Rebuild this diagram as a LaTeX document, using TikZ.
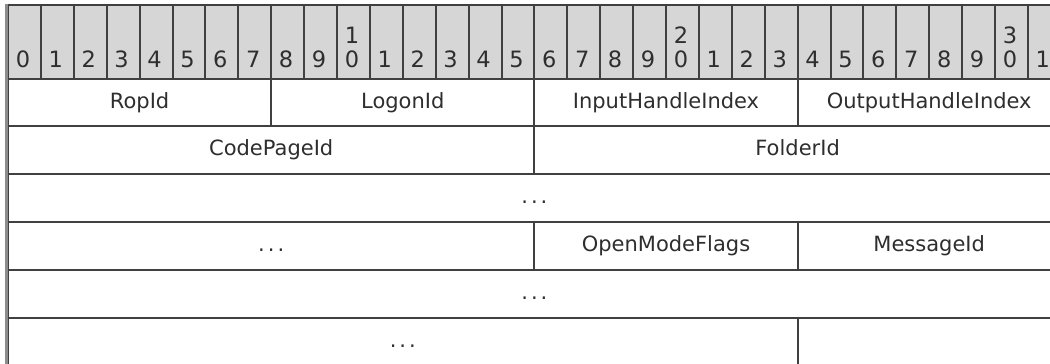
\documentclass[tikz,border=0pt]{standalone}
\usepackage{fontspec}
\setmainfont{DejaVu Sans}
\definecolor{hdr}{HTML}{D6D6D6}
\definecolor{ln}{HTML}{404040}
\definecolor{txt}{HTML}{2E2E2E}
\definecolor{lb}{HTML}{8C8C8C}
\newcommand\mydots{.\hspace{3pt}.\hspace{3pt}.}
\begin{document}
\begin{tikzpicture}[x=1pt,y=-1pt,
  bitbox/.style={draw=ln, line width=2pt, fill=hdr, minimum width=32.9pt, minimum height=73.5pt, inner sep=0pt, anchor=north west},
  digit/.style={anchor=base, inner sep=0pt, text=txt, font=\fontsize{22.5}{26}\selectfont},
  field/.style={draw=ln, line width=2pt, minimum height=47.8pt, inner sep=0pt, anchor=north west, text=txt, text height=16pt, text depth=4.8pt, font=\fontsize{21}{25}\selectfont}]
\useasboundingbox (0,0) rectangle (1050,364);
% header bits
\foreach \i in {0,...,31}{
  \node[bitbox] (b\i) at ({7+32.9*\i},4) {};
  \pgfmathtruncatemacro\lo{mod(\i,10)}
  \node[digit] (d\i) at ([xshift=-1.5pt,yshift=12.5pt]b\i.south) {\lo};
}
\node[digit] (u10) at ([xshift=-1.5pt,yshift=36pt]b10.south) {1};
\node[digit] (u20) at ([xshift=-1.5pt,yshift=36pt]b20.south) {2};
\node[digit] (u30) at ([xshift=-1.5pt,yshift=36pt]b30.south) {3};
% fields: name, start bit, bits, row, text
\newcommand\fld[5]{\node[field, minimum width={#3*32.9pt}] (#1) at ({7+32.9*#2},{77.5+47.8*#4}) {#5};}
\fld{ropid}{0}{8}{0}{RopId}
\fld{logonid}{8}{8}{0}{LogonId}
\fld{inh}{16}{8}{0}{InputHandleIndex}
\fld{outh}{24}{8}{0}{OutputHandleIndex}
\fld{codepage}{0}{16}{1}{CodePageId}
\fld{folderid}{16}{16}{1}{FolderId}
\fld{folderc}{0}{32}{2}{\mydots}
\fld{folderc2}{0}{16}{3}{\mydots}
\fld{openmode}{16}{8}{3}{OpenModeFlags}
\fld{msgid}{24}{8}{3}{MessageId}
\fld{msgc}{0}{32}{4}{\mydots}
\fld{msgc2}{0}{24}{5}{\mydots}
\fld{empty}{24}{8}{5}{}
% left border
\draw[lb, line width=3pt] ([xshift=-0.5pt]b0.north west) -- ([xshift=-0.5pt]msgc2.south west);
\end{tikzpicture}
\end{document}
